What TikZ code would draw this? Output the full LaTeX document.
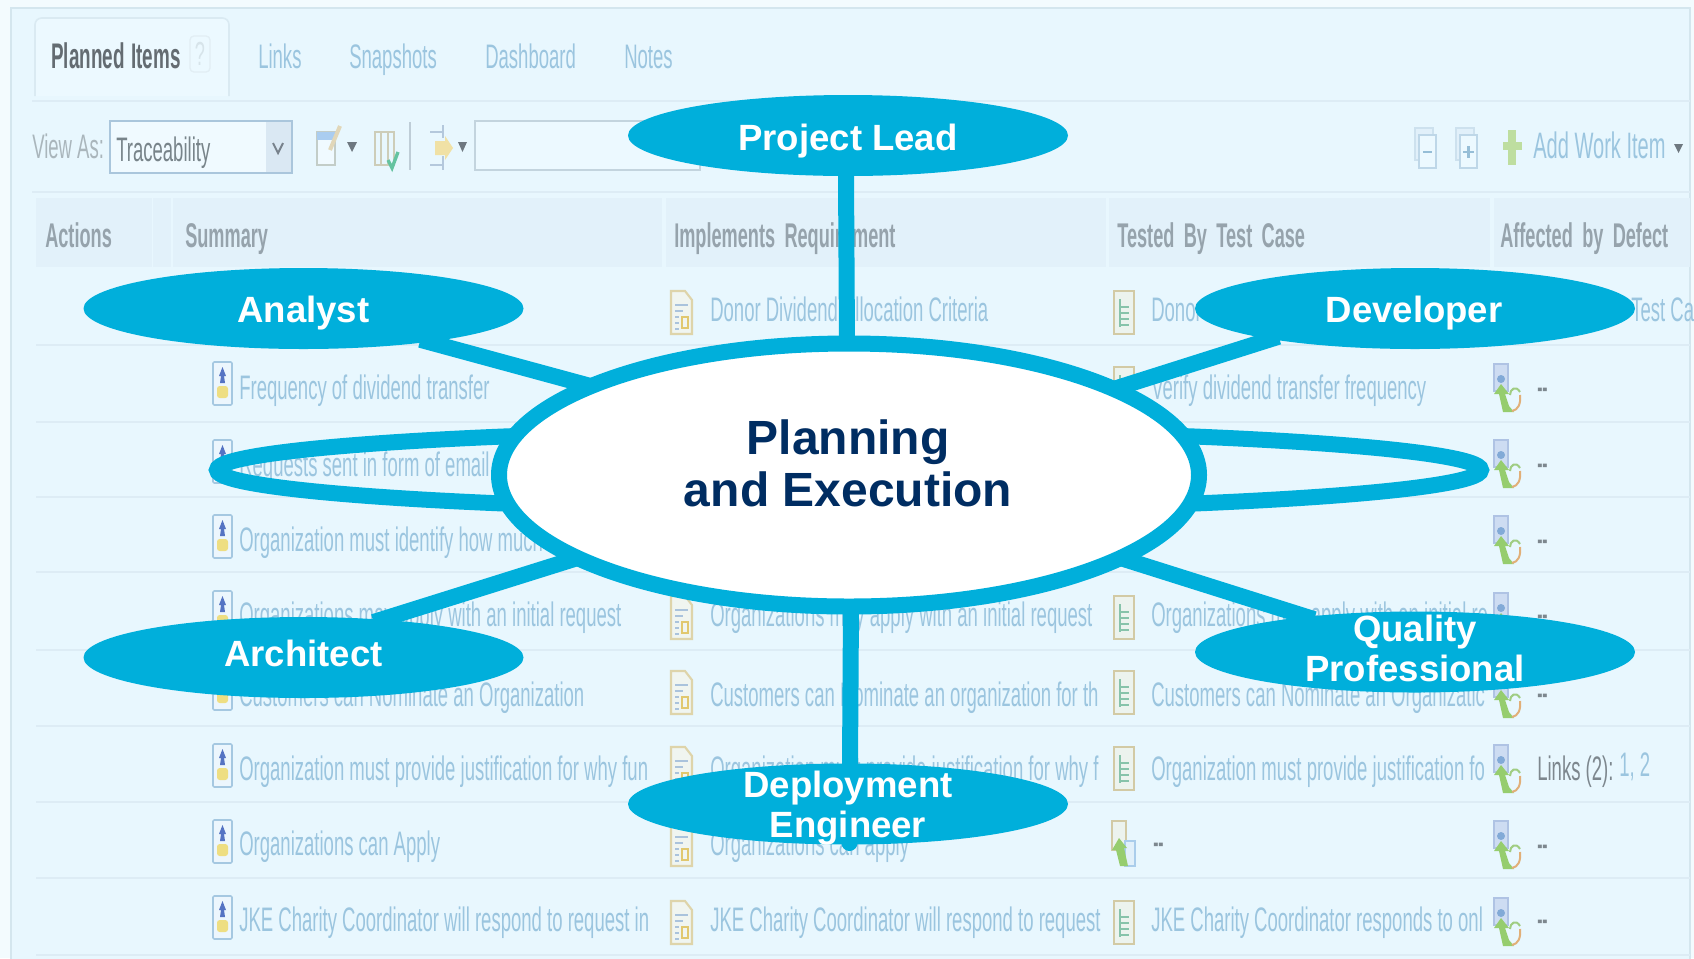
\documentclass[tikz,border=0pt]{standalone}
\usepackage{fontspec}
\usepackage{tikz}
\usetikzlibrary{shapes.geometric}
\setmainfont{Liberation Sans}
\newfontfamily\shotfont[FakeStretch=0.545]{Liberation Sans}
\newfontfamily\shotbold[FakeStretch=0.53]{Liberation Sans Bold}
\pgfdeclarelayer{shot}
\pgfdeclarelayer{wires}
\pgfsetlayers{shot,wires,main}

\tikzset{
  every pic/.style={yscale=-1},
  rolecolor/.style={fill={rgb, 255:red, 0; green, 175; blue, 219 }},
  roleshape/.style={ellipse,rolecolor,minimum width=330pt,minimum height=60.75pt,inner sep=0pt,outer sep=0pt},
  rolelabel/.style={align=center,text=white,font=\bfseries\fontsize{27.4}{30}\selectfont,inner sep=0pt},
  spoke/.style={draw={rgb, 255:red, 0; green, 175; blue, 219 },line width=12pt},
  linktext/.style={anchor=base west,inner sep=0pt,text={rgb, 255:red, 155; green, 197; blue, 223 },font=\shotfont\fontsize{25.5}{28}\selectfont},
  greytext/.style={anchor=base west,inner sep=0pt,text={rgb, 255:red, 150; green, 163; blue, 172 },font={\shotbold\fontsize{25.7}{28}\selectfont\spaceskip 7pt\relax}},
  dashtext/.style={anchor=west,inner sep=0pt,text={rgb, 255:red, 125; green, 135; blue, 142 },font=\shotbold\fontsize{22}{24}\selectfont},
  rowline/.style={draw={rgb, 255:red, 221; green, 236; blue, 245 },line width=1.2pt},
  smallarrow/.style={fill={rgb, 255:red, 110; green, 120; blue, 128 }},
  upgreen/.style={fill={rgb, 255:red, 150; green, 205; blue, 110 }},
  headband/.style={fill={rgb, 255:red, 226; green, 241; blue, 250 }},
  storyicon/.pic={
    \draw [draw={rgb, 255:red, 165; green, 200; blue, 225 },fill={rgb, 255:red, 236; green, 246; blue, 253 },line width=1.2pt,rounded corners=1pt] (0,0) rectangle (19,43) ;
    \fill [fill={rgb, 255:red, 85; green, 115; blue, 195 }] (9.5,5) -- (13,14) -- (11,14) -- (12,21) -- (7,21) -- (8,14) -- (6,14) -- cycle ;
    \fill [fill={rgb, 255:red, 238; green, 222; blue, 130 },rounded corners=2pt] (4,24) rectangle (15,36) ;
  },
  reqicon/.pic={
    \draw [draw={rgb, 255:red, 222; green, 212; blue, 170 },fill={rgb, 255:red, 240; green, 245; blue, 240 },line width=1.6pt] (0,0) -- (14,0) -- (21,9) -- (21,43) -- (0,43) -- cycle ;
    \draw [draw={rgb, 255:red, 170; green, 195; blue, 220 },line width=1.5pt] (4,14) -- (17,14) (4,20) -- (12,20) (4,26) -- (8,26) (4,32) -- (8,32) (4,38) -- (8,38) ;
    \draw [draw={rgb, 255:red, 225; green, 200; blue, 110 },line width=1.2pt] (11,26) rectangle (17,37) ;
  },
  testicon/.pic={
    \draw [draw={rgb, 255:red, 210; green, 202; blue, 165 },fill={rgb, 255:red, 236; green, 243; blue, 238 },line width=2pt] (0,0) rectangle (20,43) ;
    \draw [draw={rgb, 255:red, 135; green, 195; blue, 170 },line width=1.5pt] (6,8) -- (6,36) (6,16) -- (15,16) (6,22) -- (15,22) (6,28) -- (15,28) (6,34) -- (15,34) ;
  },
  defecticon/.pic={
    \draw [draw={rgb, 255:red, 175; green, 195; blue, 228 },fill={rgb, 255:red, 205; green, 220; blue, 242 },line width=1pt] (0,0) rectangle (14,27) ;
    \fill [fill={rgb, 255:red, 130; green, 170; blue, 215 }] (7,15) circle (4) ;
    \fill [upgreen] (7,20) -- (15,30) -- (11,30) -- (15,42) -- (20,48) -- (9,48) -- (5,30) -- (0,30) -- cycle ;
    \draw [draw={rgb, 255:red, 160; green, 205; blue, 130 },line width=1.5pt] (16,31) .. controls (16,25) and (22,21) .. (26,28) ;
    \draw [draw={rgb, 255:red, 225; green, 175; blue, 120 },line width=1.5pt] (26,31) .. controls (27,40) and (24,46) .. (18,47) ;
  },
}

\begin{document}
\begin{tikzpicture}[x=0.75pt,y=0.75pt,yscale=-1,xscale=1]
\useasboundingbox (0,0) rectangle (1694,958);

\begin{pgfonlayer}{shot}
%Shape: Rectangle [panel]
\fill [fill={rgb, 255:red, 243; green, 251; blue, 254 }] (0,0) rectangle (1694,958) ;
\draw [draw={rgb, 255:red, 212; green, 230; blue, 238 },fill={rgb, 255:red, 232; green, 247; blue, 254 },line width=1.5pt] (11,8) rectangle (1690,970) ;

%Shape: Tab
\draw [draw={rgb, 255:red, 218; green, 234; blue, 242 },fill={rgb, 255:red, 236; green, 249; blue, 255 },line width=1.2pt,rounded corners=5pt] (35,96) -- (35,18) -- (229,18) -- (229,96) ;
\node [anchor=base west,inner sep=0pt,text={rgb, 255:red, 100; green, 108; blue, 114 },font={\shotbold\fontsize{26.7}{28}\selectfont\spaceskip 5pt\relax}] (planned) at (51,68) {Planned Items};
\draw [draw={rgb, 255:red, 226; green, 238; blue, 244 },line width=1pt,rounded corners=3pt] (190,36) rectangle (210,72) ;
\node [anchor=center,inner sep=0pt,text={rgb, 255:red, 215; green, 228; blue, 234 },font=\shotfont\fontsize{25}{26}\selectfont] (helpmark) at (200,54) {?};
\node [linktext] (links) at (258,68) {Links};
\node [linktext] (snapshots) at (349,68) {Snapshots};
\node [linktext] (dashboard) at (485,68) {Dashboard};
\node [linktext] (notes) at (624,68) {Notes};

%Straight Lines [rules]
\draw [rowline] (32,101) -- (1690,101) ;
\draw [rowline] (32,192) -- (1690,192) ;

%Toolbar
\node [linktext,text={rgb, 255:red, 170; green, 182; blue, 188 }] (viewas) at (32,158) {View As:};
\draw [draw={rgb, 255:red, 170; green, 198; blue, 220 },fill={rgb, 255:red, 240; green, 250; blue, 255 },line width=1.2pt] (110,121) rectangle (292,173) ;
\fill [fill={rgb, 255:red, 218; green, 232; blue, 243 }] (266,122) rectangle (291,172) ;
\node [linktext,text={rgb, 255:red, 120; green, 132; blue, 138 }] (traceability) at (116,161) {Traceability};
\draw [draw={rgb, 255:red, 120; green, 130; blue, 140 },line width=1.5pt] (273,143) -- (278,153) -- (283,143) ;
%edit icon
\draw [draw={rgb, 255:red, 195; green, 205; blue, 200 },fill={rgb, 255:red, 240; green, 250; blue, 255 },line width=1.5pt] (317,132) rectangle (335,165) ;
\fill [fill={rgb, 255:red, 170; green, 205; blue, 240 }] (317,132) rectangle (335,140) ;
\draw [draw={rgb, 255:red, 225; green, 215; blue, 185 },line width=3pt] (330,150) -- (340,126) ;
\fill [smallarrow] (347,142) -- (357,142) -- (352,152) -- cycle ;
%columns icon
\draw [draw={rgb, 255:red, 205; green, 205; blue, 185 },line width=1.5pt] (375,132) rectangle (394,165) (381,132) -- (381,165) (388,132) -- (388,165) ;
\draw [draw={rgb, 255:red, 100; green, 195; blue, 160 },line width=2.5pt] (388,160) -- (392,168) -- (398,152) ;
\draw [draw={rgb, 255:red, 190; green, 205; blue, 215 },line width=1pt] (410,122) -- (410,170) ;
%filter icon
\draw [draw={rgb, 255:red, 180; green, 200; blue, 220 },line width=1.5pt] (430,132) -- (442,132) (430,165) -- (442,165) (443,125) -- (443,138) (443,156) -- (443,170) ;
\fill [fill={rgb, 255:red, 240; green, 225; blue, 165 }] (435,141) -- (445,141) -- (445,136) -- (453,148) -- (445,160) -- (445,155) -- (435,155) -- cycle ;
\fill [smallarrow] (458,142) -- (467,142) -- (462.5,152) -- cycle ;
\draw [draw={rgb, 255:red, 195; green, 212; blue, 222 },fill={rgb, 255:red, 236; green, 249; blue, 255 },line width=1.3pt] (475,121) rectangle (700,170) ;
%collapse and expand icons
\draw [draw={rgb, 255:red, 205; green, 225; blue, 238 },fill={rgb, 255:red, 225; green, 240; blue, 250 },line width=1pt] (1415,128) rectangle (1433,160) ;
\draw [draw={rgb, 255:red, 190; green, 215; blue, 232 },fill={rgb, 255:red, 236; green, 249; blue, 255 },line width=1.3pt] (1419,135) rectangle (1436,168) ;
\draw [draw={rgb, 255:red, 150; green, 190; blue, 215 },line width=1.8pt] (1423,152) -- (1432,152) ;
\draw [draw={rgb, 255:red, 205; green, 225; blue, 238 },fill={rgb, 255:red, 225; green, 240; blue, 250 },line width=1pt] (1456,128) rectangle (1474,160) ;
\draw [draw={rgb, 255:red, 190; green, 215; blue, 232 },fill={rgb, 255:red, 236; green, 249; blue, 255 },line width=1.3pt] (1460,135) rectangle (1477,168) ;
\draw [draw={rgb, 255:red, 150; green, 190; blue, 215 },line width=1.8pt] (1463,152) -- (1474,152) (1468.5,146) -- (1468.5,158) ;
\draw [draw={rgb, 255:red, 190; green, 222; blue, 160 },line width=6pt] (1512,130) -- (1512,165) (1503,146) -- (1522,146) ;
\node [linktext,font=\shotfont\fontsize{27.6}{30}\selectfont] (addwork) at (1533,158) {Add Work Item};
\fill [smallarrow] (1674,144) -- (1683,144) -- (1678.5,153) -- cycle ;

%Shape: Rectangle [header band]
\fill [headband] (36,198) rectangle (152,267) ;
\fill [headband] (153,198) rectangle (171,267) ;
\fill [headband] (173,198) rectangle (662,267) ;
\fill [headband] (666,198) rectangle (1106,267) ;
\fill [headband] (1109,198) rectangle (1490,267) ;
\fill [headband] (1494,198) rectangle (1690,267) ;
\node [greytext] (actions) at (45,247) {Actions};
\node [greytext] (summary) at (185,247) {Summary};
\node [greytext] (implements) at (674,247) {Implements Requirement};
\node [greytext] (tested) at (1117,247) {Tested By Test Case};
\node [greytext] (affected) at (1500,247) {Affected by Defect};

%Straight Lines [rows]
\draw [rowline] (36,345) -- (1690,345) ;
\draw [rowline] (36,422) -- (1690,422) ;
\draw [rowline] (36,497) -- (1690,497) ;
\draw [rowline] (36,572) -- (1690,572) ;
\draw [rowline] (36,650) -- (1690,650) ;
\draw [rowline] (36,726) -- (1690,726) ;
\draw [rowline] (36,802) -- (1690,802) ;
\draw [rowline] (36,878) -- (1690,878) ;
\draw [rowline] (36,955) -- (1690,955) ;

%Summary column
\pic at (213,362) {storyicon};
\pic at (213,440) {storyicon};
\pic at (213,515) {storyicon};
\pic at (213,591) {storyicon};
\pic at (213,667) {storyicon};
\pic at (213,744) {storyicon};
\pic at (213,820) {storyicon};
\pic at (213,896) {storyicon};
\node [linktext] (sumb) at (239,399) {Frequency of dividend transfer};
\node [linktext] (sumc) at (239,476) {Requests sent in form of email};
\node [linktext] (sumd) at (239,551) {Organization must identify how much};
\node [linktext] (sume) at (239,626) {Organizations may apply with an initial request};
\node [linktext] (sumf) at (239,706) {Customers can Nominate an Organization};
\node [linktext] (sumg) at (239,780) {Organization must provide justification for why fun};
\node [linktext] (sumh) at (239,855) {Organizations can Apply};
\node [linktext] (sumi) at (239,931) {JKE Charity Coordinator will respond to request in};

%Requirement column
\pic at (671,291) {reqicon};
\pic at (671,596) {reqicon};
\pic at (671,671) {reqicon};
\pic at (671,747) {reqicon};
\pic at (671,823) {reqicon};
\pic at (671,901) {reqicon};
\node [linktext] (reqa) at (710,321) {Donor Dividend Allocation Criteria};
\node [linktext] (reqe) at (710,626) {Organizations may apply with an initial request};
\node [linktext] (reqf) at (710,706) {Customers can Nominate an organization for th};
\node [linktext] (reqg) at (710,780) {Organization must provide justification for why f};
\node [linktext] (reqh) at (710,855) {Organizations can apply};
\node [linktext] (reqi) at (710,931) {JKE Charity Coordinator will respond to request};

%Test case column
\pic at (1114,291) {testicon};
\pic at (1114,367) {testicon};
\pic at (1114,596) {testicon};
\pic at (1114,671) {testicon};
\pic at (1114,747) {testicon};
\pic at (1114,901) {testicon};
\draw [draw={rgb, 255:red, 210; green, 202; blue, 165 },fill={rgb, 255:red, 236; green, 243; blue, 238 },line width=1.5pt] (1112,821) rectangle (1126,850) ;
\draw [draw={rgb, 255:red, 170; green, 205; blue, 235 },fill={rgb, 255:red, 225; green, 240; blue, 250 },line width=1.5pt] (1125,841) rectangle (1135,866) ;
\fill [upgreen] (1119,838) -- (1127,848) -- (1124,848) -- (1128,866) -- (1120,866) -- (1116,850) -- (1112,850) -- cycle ;
\node [linktext] (testa) at (1151,321) {Donor};
\node [linktext] (testb) at (1151,399) {Verify dividend transfer frequency};
\node [linktext] (teste) at (1151,626) {Organizations may apply with an initial re};
\node [linktext] (testf) at (1151,706) {Customers can Nominate an Organizatic};
\node [linktext] (testg) at (1151,780) {Organization must provide justification fo};
\node [linktext] (testi) at (1151,931) {JKE Charity Coordinator responds to onl};
\node [dashtext] (testh) at (1153,848) {--};

%Defect column
\pic at (1494,364) {defecticon};
\pic at (1494,440) {defecticon};
\pic at (1494,516) {defecticon};
\pic at (1494,593) {defecticon};
\pic at (1494,670) {defecticon};
\pic at (1494,745) {defecticon};
\pic at (1494,821) {defecticon};
\pic at (1494,898) {defecticon};
\node [linktext] (testcase) at (1631,321) {Test Ca};
\node [dashtext] (defb) at (1537,393) {--};
\node [dashtext] (defc) at (1537,469) {--};
\node [dashtext] (defd) at (1537,545) {--};
\node [dashtext] (defe) at (1537,620) {--};
\node [dashtext] (deff) at (1537,699) {--};
\node [linktext,text={rgb, 255:red, 125; green, 135; blue, 142 }] (defg) at (1537,780) {Links (2):};
\node [linktext] (defgl) at (1619,776) {1, 2};
\node [dashtext] (defh) at (1537,850) {--};
\node [dashtext] (defi) at (1537,925) {--};
\end{pgfonlayer}

%Shape: Ellipse [roles]
\node [ellipse,minimum width=525pt,minimum height=197.25pt,inner sep=0pt,outer sep=0pt,spoke,fill=white] (central) at (849,475) {};
\node [roleshape] (project) at (848,135.5) {};
\node [roleshape] (analyst) at (303.5,308.5) {};
\node [roleshape] (developer) at (1415,308.5) {};
\node [roleshape] (architect) at (303.5,657.5) {};
\node [roleshape] (quality) at (1415,652) {};
\node [roleshape] (deployment) at (848,804) {};
\coordinate (deploytail) at (849.5,843);

\begin{pgfonlayer}{wires}
\node [ellipse,minimum width=948pt,minimum height=60pt,inner sep=0pt,outer sep=0pt,spoke] (loop) at (849,470) {};
%Straight Lines [spokes]
\draw [spoke,shorten <=-6pt] ([xshift=-1.5pt]project.south) -- ([xshift=-1.5pt]central.north) ;
\draw [spoke,shorten <=-6pt] (analyst.-15) -- (central.161.4) ;
\draw [spoke,shorten <=-6pt] (developer.192) -- (central.18.5) ;
\draw [spoke,shorten <=-6pt] (architect.26) -- (central.197.4) ;
\draw [spoke,shorten <=-6pt] (quality.162.9) -- (central.-17.3) ;
\draw [spoke,line cap=round] ([xshift=1.5pt]central.south) -- (deploytail) ;
\end{pgfonlayer}

%Labels
\node [rolelabel] (projecttext) at (848,141) {Project Lead};
\node [rolelabel] (analysttext) at (303.5,313) {Analyst};
\node [rolelabel] (developertext) at (1414,313) {Developer};
\node [rolelabel] (architecttext) at (303.5,653) {Architect};
\node [rolelabel] (qualitytext) at (1415,648) {Quality\\Professional};
\node [rolelabel] (deploymenttext) at (848,808) {Deployment\\Engineer};
\node [align=center,inner sep=0pt,text={rgb, 255:red, 0; green, 45; blue, 98 },font=\bfseries\fontsize{36}{39}\selectfont] (centraltext) at (848,463) {Planning\\and Execution};

\end{tikzpicture}
\end{document}
